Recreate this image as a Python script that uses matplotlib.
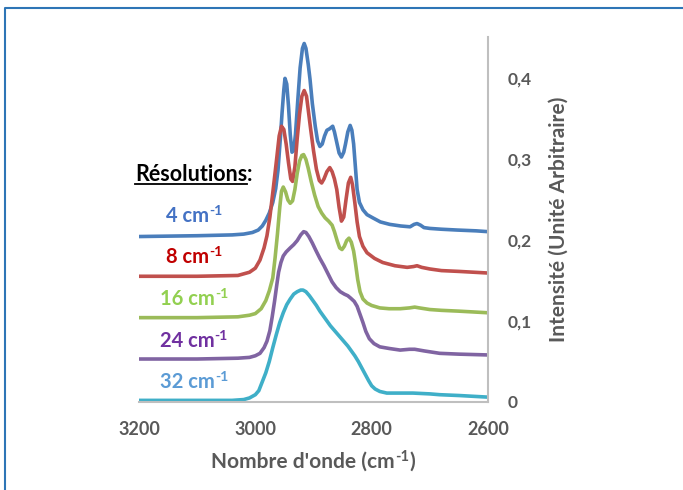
import matplotlib
matplotlib.use("Agg")
import matplotlib.pyplot as plt
from matplotlib.lines import Line2D
from matplotlib.transforms import IdentityTransform

plt.rcParams['font.family'] = ['Lato', 'DejaVu Sans']

# ---- data ----
label_main = ["4 cm", "8 cm", "16 cm", "24 cm", "32 cm"]
label_sup = "-1"

x_4 = [3200, 3100, 3040, 3020, 3005, 2995, 2988, 2982, 2976, 2970, 2965, 2961, 2957, 2954, 2951,
       2949, 2946, 2943, 2940, 2937, 2934, 2931, 2927, 2923, 2919, 2916, 2913, 2909, 2906, 2902,
       2897, 2893, 2889, 2885, 2881, 2877, 2872, 2867, 2864, 2860, 2856, 2852, 2848, 2845, 2841,
       2837, 2834, 2831, 2828, 2825, 2821, 2815, 2808, 2798, 2785, 2769, 2750, 2734, 2727, 2722,
       2716, 2710, 2700, 2680, 2653, 2620, 2600]
y_4 = [0.204, 0.205, 0.206, 0.207, 0.209, 0.212, 0.217, 0.224, 0.233, 0.246, 0.263, 0.286, 0.325,
       0.357, 0.385, 0.399, 0.392, 0.365, 0.330, 0.308, 0.310, 0.330, 0.372, 0.412, 0.436, 0.442,
       0.436, 0.416, 0.398, 0.368, 0.340, 0.322, 0.315, 0.318, 0.328, 0.335, 0.337, 0.340, 0.333,
       0.320, 0.307, 0.302, 0.308, 0.318, 0.333, 0.341, 0.335, 0.318, 0.290, 0.262, 0.246, 0.237,
       0.231, 0.227, 0.222, 0.219, 0.217, 0.216, 0.219, 0.220, 0.218, 0.215, 0.214, 0.213, 0.212,
       0.211, 0.210]

x_8 = [3200, 3100, 3030, 3010, 3000, 2992, 2985, 2980, 2975, 2970, 2966, 2963, 2959, 2955, 2951,
       2947, 2943, 2939, 2936, 2932, 2928, 2924, 2920, 2916, 2912, 2909, 2905, 2900, 2895, 2890,
       2886, 2882, 2877, 2872, 2868, 2864, 2860, 2856, 2852, 2848, 2844, 2840, 2836, 2833, 2829,
       2825, 2821, 2815, 2808, 2795, 2781, 2760, 2739, 2728, 2722, 2714, 2700, 2680, 2650, 2600]
y_8 = [0.155, 0.155, 0.156, 0.160, 0.165, 0.175, 0.190, 0.205, 0.228, 0.258, 0.283, 0.302, 0.328,
       0.340, 0.336, 0.318, 0.295, 0.275, 0.272, 0.290, 0.325, 0.355, 0.377, 0.384, 0.377, 0.360,
       0.337, 0.310, 0.287, 0.273, 0.270, 0.275, 0.284, 0.289, 0.284, 0.275, 0.262, 0.240, 0.223,
       0.228, 0.250, 0.270, 0.277, 0.268, 0.246, 0.222, 0.204, 0.192, 0.184, 0.177, 0.172, 0.168,
       0.166, 0.167, 0.168, 0.166, 0.164, 0.162, 0.161, 0.159]

x_16 = [3200, 3100, 3030, 3010, 3000, 2990, 2982, 2976, 2970, 2966, 2962, 2958, 2955, 2952, 2948,
        2944, 2940, 2936, 2932, 2928, 2924, 2920, 2917, 2913, 2909, 2904, 2898, 2892, 2886, 2880,
        2874, 2868, 2864, 2859, 2855, 2851, 2847, 2843, 2839, 2835, 2831, 2828, 2824, 2820, 2815,
        2808, 2800, 2786, 2770, 2751, 2735, 2726, 2718, 2700, 2680, 2650, 2600]
y_16 = [0.104, 0.104, 0.105, 0.107, 0.109, 0.115, 0.125, 0.137, 0.153, 0.178, 0.207, 0.240, 0.260,
        0.265, 0.259, 0.249, 0.245, 0.248, 0.262, 0.282, 0.297, 0.304, 0.305, 0.299, 0.288, 0.272,
        0.255, 0.241, 0.233, 0.227, 0.223, 0.218, 0.210, 0.198, 0.190, 0.188, 0.192, 0.199, 0.202,
        0.197, 0.186, 0.172, 0.151, 0.136, 0.127, 0.122, 0.119, 0.116, 0.115, 0.115, 0.116, 0.117,
        0.116, 0.114, 0.113, 0.112, 0.110]

x_24 = [3200, 3100, 3030, 3010, 3000, 2992, 2985, 2980, 2975, 2971, 2967, 2963, 2960, 2956, 2952,
        2947, 2940, 2934, 2928, 2922, 2917, 2913, 2908, 2902, 2896, 2889, 2882, 2875, 2868, 2861,
        2854, 2847, 2841, 2836, 2830, 2825, 2820, 2815, 2810, 2804, 2796, 2786, 2770, 2751, 2735,
        2726, 2710, 2683, 2650, 2600]
y_24 = [0.053, 0.053, 0.054, 0.055, 0.057, 0.060, 0.067, 0.075, 0.088, 0.105, 0.124, 0.145, 0.160,
        0.172, 0.180, 0.185, 0.190, 0.194, 0.199, 0.206, 0.210, 0.209, 0.204, 0.196, 0.187, 0.177,
        0.168, 0.158, 0.148, 0.141, 0.136, 0.133, 0.131, 0.128, 0.124, 0.118, 0.108, 0.098, 0.087,
        0.078, 0.072, 0.068, 0.066, 0.064, 0.065, 0.065, 0.063, 0.060, 0.059, 0.058]

x_32 = [3200, 3100, 3040, 3020, 3010, 3000, 2994, 2988, 2982, 2976, 2970, 2964, 2958, 2952, 2946,
        2940, 2934, 2928, 2922, 2918, 2913, 2907, 2901, 2895, 2889, 2883, 2877, 2871, 2865, 2859,
        2853, 2847, 2841, 2835, 2829, 2823, 2817, 2811, 2805, 2800, 2794, 2786, 2774, 2750, 2729,
        2700, 2683, 2650, 2600]
y_32 = [0.002, 0.002, 0.002, 0.003, 0.005, 0.009, 0.014, 0.025, 0.036, 0.050, 0.067, 0.083, 0.098,
        0.110, 0.120, 0.127, 0.133, 0.136, 0.138, 0.138, 0.136, 0.131, 0.125, 0.119, 0.112, 0.106,
        0.100, 0.094, 0.089, 0.084, 0.079, 0.074, 0.069, 0.063, 0.057, 0.050, 0.042, 0.034, 0.026,
        0.020, 0.016, 0.013, 0.011, 0.011, 0.011, 0.010, 0.009, 0.008, 0.006]

series_x = [x_4, x_8, x_16, x_24, x_32]
series_y = [y_4, y_8, y_16, y_24, y_32]

line_colors = ["#4A7EBB", "#C0504D", "#9BBB59", "#8064A2", "#3FAFC8"]
text_colors = ["#4472C4", "#C00000", "#92D050", "#7030A0", "#5B9BD5"]

x_ticks = [3200, 3000, 2800, 2600]
y_ticks = [0, 0.1, 0.2, 0.3, 0.4]
y_tick_labels = ["0", "0,1", "0,2", "0,3", "0,4"]

# ---- figure ----
W, H = 683, 490
fig = plt.figure(figsize=(W / 100, H / 100), dpi=100)
ax = fig.add_axes([139 / W, 1 - 402 / H, (488 - 139) / W, (402 - 37) / H])

for xs, ys, c in zip(series_x, series_y, line_colors):
    ax.plot(xs, ys, color=c, lw=2.6, solid_joinstyle='round', solid_capstyle='round')

ax.set_xlim(3200, 2600)
ax.set_ylim(0, 0.45)

for s in ["top", "left"]:
    ax.spines[s].set_visible(False)
for s in ["right", "bottom"]:
    ax.spines[s].set_color("#BFBFBF")
    ax.spines[s].set_linewidth(1.5)

gray = "#595959"
ax.set_xticks(x_ticks)
ax.set_xticklabels([str(t) for t in x_ticks], fontsize=13, fontweight='bold', color=gray)
ax.yaxis.tick_right()
ax.set_yticks(y_ticks)
ax.set_yticklabels(y_tick_labels, fontsize=12.5, fontweight='bold', color=gray)
ax.tick_params(axis='x', length=0, pad=14)
ax.tick_params(axis='y', length=0, pad=14)
for lab in ax.get_yticklabels():
    lab.set_horizontalalignment('left')

ax.yaxis.set_label_position("right")
ax.set_ylabel("Intensité (Unité Arbitraire)", fontsize=15, fontweight='bold', color=gray,
              labelpad=12)

fig.canvas.draw()
renderer = fig.canvas.get_renderer()


def rich_text(x_px, base_px, parts, size, color, ha='center'):
    """parts: list of (string, is_superscript); coords in pixels from top-left."""
    objs = []
    total = 0.0
    for s, sup in parts:
        fs = size * 0.7 if sup else size
        t = fig.text(0, 0, s, fontsize=fs, fontweight='bold', color=color,
                     va='baseline', ha='left', transform=IdentityTransform())
        w = t.get_window_extent(renderer=renderer).width
        objs.append((t, sup, w))
        total += w
    x0 = x_px - total / 2 if ha == 'center' else x_px
    yb = H - base_px
    for t, sup, w in objs:
        t.set_position((x0, yb + (size * 0.45 if sup else 0.0)))
        x0 += w
    return objs


# x-axis label
rich_text(313, 468, [("Nombre d'onde (cm", False), (label_sup, True), (")", False)],
          15, gray)

# resolution labels
label_base = [222, 263, 305, 347, 388]
for main, yb, c in zip(label_main, label_base, text_colors):
    rich_text(194, yb, [(main, False), (label_sup, True)], 14.5, c)

objs = rich_text(135, 181, [("Résolutions", False), (":", False)], 15.5, 'black', ha='left')
w_word = objs[0][2]
uy = H - 184
fig.add_artist(Line2D([135 / W, (135 + w_word) / W], [uy / H, uy / H], color='black', lw=1.3,
                      transform=fig.transFigure))

# blue frame
fig.add_artist(Line2D([5 / W, 5 / W, 1.0], [0.0, 1 - 8 / H, 1 - 8 / H], color="#2E75B6",
                      lw=1.5, transform=fig.transFigure))

fig.savefig("out.png", dpi=100)
